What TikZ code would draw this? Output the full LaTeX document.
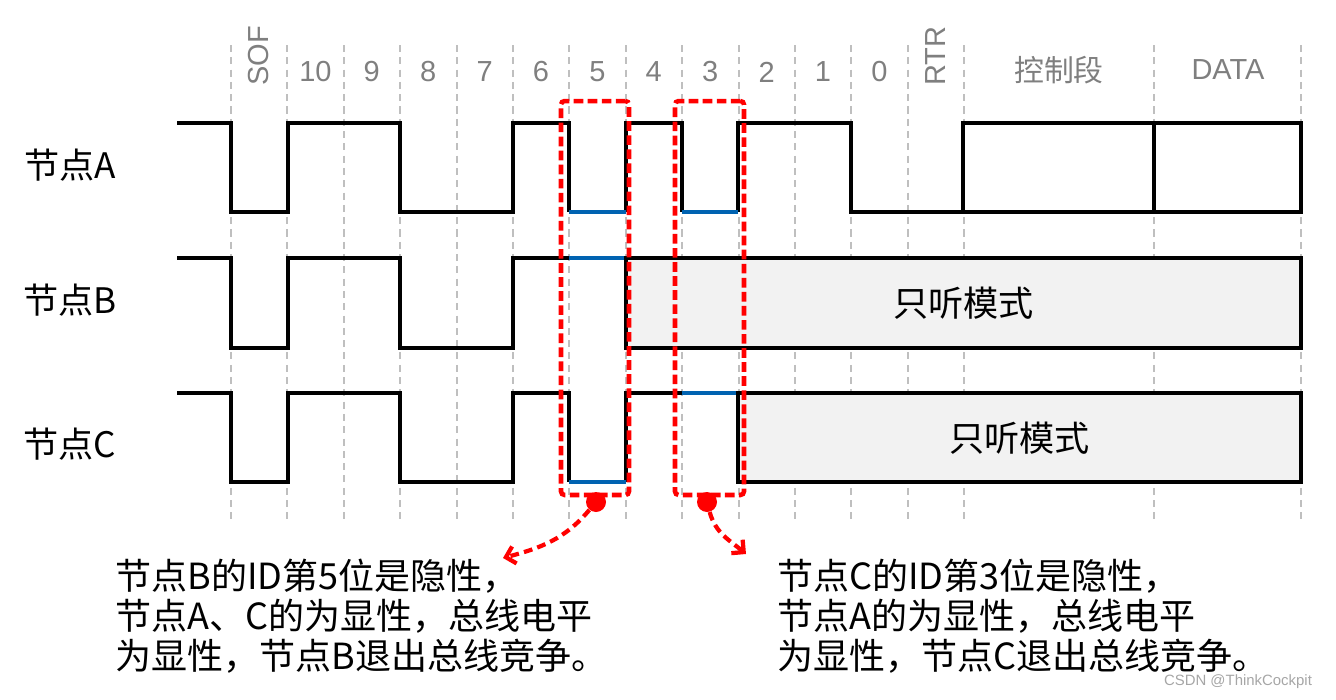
\documentclass[tikz,border=0pt]{standalone}
\usepackage{fontspec}
\setmainfont{Liberation Sans}
\newfontfamily\cjk{Noto Sans CJK SC}
\usetikzlibrary{arrows.meta}

\definecolor{hdrgray}{HTML}{7F7F7F}
\definecolor{gridgray}{HTML}{BFBFBF}
\definecolor{busblue}{HTML}{0063B1}
\definecolor{boxgray}{HTML}{F2F2F2}

\begin{document}
\begin{tikzpicture}[x=0.02cm, y=-0.02cm, grid/.style={draw=gridgray, line width=1.2pt, dash pattern=on 4pt off 3pt}, wave/.style={draw=black, line width=2.2pt}, recess/.style={draw=busblue, line width=2.2pt}, hdr/.style={text=hdrgray, font=\fontsize{16.5}{18}\selectfont, inner sep=0pt}, lbl/.style={font=\cjk\fontsize{20}{24}\selectfont, inner sep=0pt}, note/.style={font=\cjk\fontsize{20.5}{22.8}\selectfont, align=left, inner sep=0pt, anchor=west}, redbox/.style={draw=red, line width=2.6pt, dash pattern=on 5.5pt off 2.5pt, rounded corners=2pt, inner sep=0pt}, reddot/.style={circle, fill=red, inner sep=0pt, minimum size=0.4cm}, redarrow/.style={draw=red, line width=2.4pt, dash pattern=on 5pt off 3pt, -{Straight Barb[length=5pt, width=10pt]}}]
\useasboundingbox (0,0) rectangle (1336,700);
% bit grid
\foreach \i in {0,...,13} \draw[grid] ({231+56.4*\i},45) -- ({231+56.4*\i},520);
\foreach \x in {1154,1301} \draw[grid] (\x,45) -- (\x,520);
% header
\node[hdr, rotate=90, anchor=west] (hSOF) at (259,86) {SOF};
\foreach \t [count=\k] in {10,9,8,7,6,5,4,3,2,1,0} \node[hdr] (h\t) at ({259+56.4*\k},72) {\t};
\node[hdr, rotate=90, anchor=west] (hRTR) at (936,86) {RTR};
\node[hdr, font=\cjk\fontsize{17}{18}\selectfont] (hCtrl) at (1059,70) {控制段};
\node[hdr] (hData) at (1228,70) {DATA};
% node labels
\node[lbl] (nA) at (70,165) {节点A};
\node[lbl] (nB) at (70,300) {节点B};
\node[lbl] (nC) at (70,444) {节点C};
% node A
\draw[wave] (177,123) -| (231,212) -| (288,123) -| (400,212) -| (513,123) -- (569,123) -- (569,212);
\draw[wave] (626,212) -- (626,123) -- (682,123) -- (682,212);
\draw[wave] (738,212) -- (738,123) -| (851,212) -- (963,212);
\draw[wave] (963,123) rectangle (1301,212);
\draw[wave] (1154,123) -- (1154,212);
\draw[recess] (569,212) -- (626,212);
\draw[recess] (682,212) -- (738,212);
% node B
\draw[wave] (177,258) -| (231,348) -| (288,258) -| (400,348) -| (513,258) -- (569,258);
\draw[recess] (569,258) -- (626,258);
\draw[wave, fill=boxgray] (626,258) rectangle (1301,348);
\node[lbl] (listenB) at (963.5,303) {只听模式};
% node C
\draw[wave] (177,393) -| (231,482) -| (288,393) -| (400,482) -| (513,393) -- (569,393) -- (569,482);
\draw[wave] (626,482) -- (626,393) -- (682,393);
\draw[recess] (569,482) -- (626,482);
\draw[recess] (682,393) -- (738,393);
\draw[wave, fill=boxgray] (738,393) rectangle (1301,482);
\node[lbl] (listenC) at (1019.5,438) {只听模式};
% arbitration windows
\node[redbox, minimum width=1.36cm, minimum height=7.88cm] (win5) at (595,298) {};
\node[redbox, minimum width=1.38cm, minimum height=7.88cm] (win3) at (709.5,298) {};
\node[reddot] (dot5) at (596,502) {};
\node[reddot] (dot3) at (707,502) {};
\coordinate (tip5) at (503,558);
\coordinate (tip3) at (746,554);
\draw[redarrow] (dot5) to[out=-130, in=15] (tip5);
\draw[redarrow] (dot3) to[out=-75, in=140] (tip3);
% notes
\node[note] (noteB) at (115,616) {节点B的ID第5位是隐性，\\节点A、C的为显性，总线电平\\为显性，节点B退出总线竞争。};
\node[note] (noteC) at (777,616) {节点C的ID第3位是隐性，\\节点A的为显性，总线电平\\为显性，节点C退出总线竞争。};
\node[font=\fontsize{8.5}{10}\selectfont, text=gray!70, inner sep=0pt] (wm) at (1238,682) {CSDN @ThinkCockpit};
\end{tikzpicture}
\end{document}
